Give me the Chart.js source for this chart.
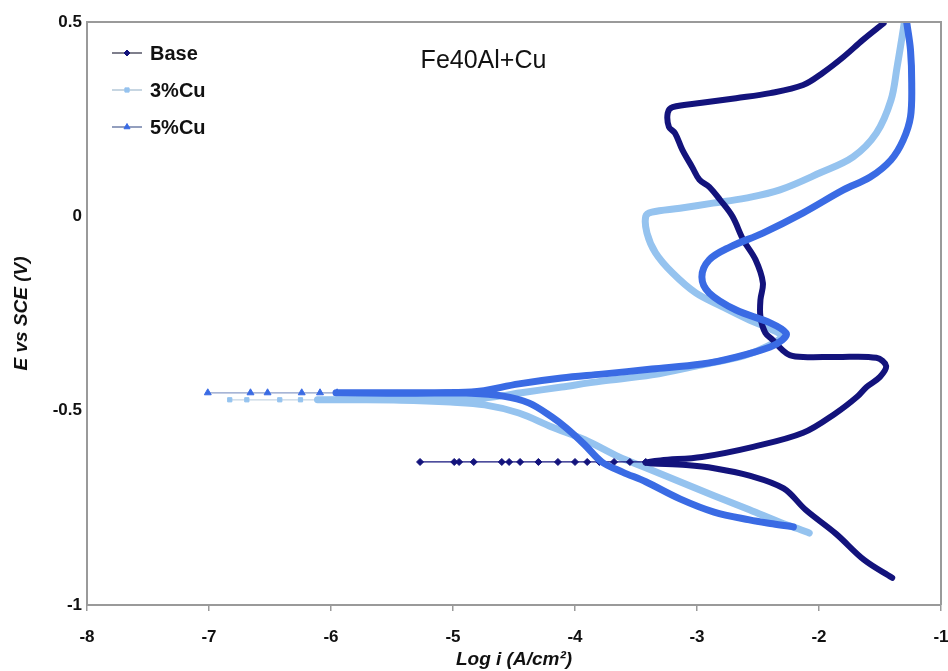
<!DOCTYPE html>
<html>
<head>
<meta charset="utf-8">
<script src="https://cdn.jsdelivr.net/npm/chart.js@4"></script>
<style>
  html, body { margin: 0; padding: 0; background: #fff; }
  #wrap { width: 948px; height: 671px; }
</style>
</head>
<body>
<div id="wrap"><canvas id="polChart"></canvas></div>
<script>
// log i (A/cm2), E vs SCE (V) pairs
const baseCurve = [
  [-1.40,-0.930],[-1.63,-0.884],[-1.86,-0.817],[-2.11,-0.755],[-2.29,-0.700],[-2.57,-0.667],
  [-2.86,-0.648],[-3.09,-0.640],[-3.42,-0.634],[-3.30,-0.628],[-2.96,-0.619],[-2.54,-0.593],
  [-2.13,-0.557],[-1.86,-0.506],[-1.69,-0.465],[-1.61,-0.439],[-1.50,-0.413],[-1.45,-0.385],
  [-1.53,-0.364],[-1.86,-0.362],[-2.13,-0.362],[-2.24,-0.357],[-2.30,-0.344],[-2.38,-0.318],
  [-2.44,-0.300],[-2.48,-0.259],[-2.48,-0.215],[-2.46,-0.171],[-2.52,-0.112],[-2.62,-0.061],
  [-2.71,0.000],[-2.81,0.042],[-2.90,0.076],[-2.98,0.094],[-3.04,0.127],[-3.12,0.171],
  [-3.18,0.214],[-3.23,0.230],[-3.24,0.266],[-3.20,0.281],[-2.96,0.292],[-2.68,0.304],
  [-2.40,0.317],[-2.13,0.338],[-1.97,0.369],[-1.80,0.410],[-1.64,0.454],[-1.47,0.497]
];
const baseTail = [
  [-5.27,-0.632],[-4.99,-0.632],[-4.95,-0.632],[-4.83,-0.632],[-4.60,-0.632],[-4.54,-0.632],
  [-4.45,-0.632],[-4.30,-0.632],[-4.14,-0.632],[-4.00,-0.632],[-3.90,-0.632],[-3.80,-0.632],
  [-3.68,-0.632],[-3.55,-0.632],[-3.42,-0.632]
];
const cu3Curve = [
  [-2.08,-0.815],[-2.17,-0.804],[-2.29,-0.791],[-2.57,-0.755],[-2.86,-0.719],[-3.14,-0.683],
  [-3.42,-0.647],[-3.64,-0.619],[-3.92,-0.575],[-4.19,-0.542],[-4.46,-0.506],[-4.74,-0.485],
  [-5.02,-0.478],[-5.43,-0.473],[-5.80,-0.472],[-6.10,-0.472],[-4.77,-0.468],[-4.44,-0.454],
  [-4.11,-0.439],[-3.78,-0.424],[-3.37,-0.408],[-2.96,-0.382],[-2.62,-0.359],[-2.42,-0.334],
  [-2.31,-0.308],[-2.42,-0.287],[-2.57,-0.267],[-2.79,-0.233],[-3.01,-0.197],[-3.20,-0.146],
  [-3.34,-0.094],[-3.41,-0.043],[-3.42,0.000],[-3.37,0.011],[-3.14,0.021],[-2.87,0.034],
  [-2.60,0.047],[-2.32,0.068],[-1.99,0.112],[-1.72,0.153],[-1.53,0.214],[-1.41,0.299],
  [-1.36,0.384],[-1.32,0.460],[-1.30,0.500]
];
const cu3Tail = [[-6.83,-0.472],[-6.69,-0.472],[-6.42,-0.472],[-6.25,-0.472],[-6.10,-0.472]];
const cu5Curve = [
  [-2.21,-0.799],[-2.38,-0.791],[-2.57,-0.781],[-2.86,-0.761],[-3.14,-0.727],[-3.42,-0.683],
  [-3.61,-0.658],[-3.78,-0.632],[-3.92,-0.588],[-4.07,-0.545],[-4.19,-0.516],[-4.38,-0.480],
  [-4.60,-0.462],[-4.85,-0.455],[-5.20,-0.454],[-5.60,-0.454],[-5.95,-0.454],[-4.85,-0.452],
  [-4.46,-0.431],[-4.11,-0.416],[-3.78,-0.406],[-3.37,-0.393],[-2.96,-0.380],[-2.68,-0.362],
  [-2.40,-0.336],[-2.30,-0.318],[-2.27,-0.300],[-2.40,-0.274],[-2.68,-0.241],[-2.90,-0.197],
  [-2.96,-0.156],[-2.90,-0.112],[-2.73,-0.079],[-2.46,-0.043],[-2.13,0.009],[-1.80,0.068],
  [-1.58,0.101],[-1.41,0.145],[-1.31,0.196],[-1.25,0.256],[-1.24,0.343],[-1.25,0.428],
  [-1.28,0.497]
];
const cu5Tail = [[-7.01,-0.454],[-6.66,-0.454],[-6.52,-0.454],[-6.24,-0.454],[-6.09,-0.454],[-5.95,-0.454]];

const seriesNames = ['Base', '3%Cu', '5%Cu'];
const xTitle = 'Log i (A/cm\u00B2)';
const yTitle = 'E vs SCE (V)';
const plotTitle = 'Fe40Al+Cu';

const navy = '#13137c';
const light = '#95c3ef';
const royal = '#3a6be4';
const FONT = "'Liberation Sans', Arial, sans-serif";

const pts = arr => arr.map(p => ({ x: p[0], y: p[1] }));

function curve(data, color, width, order) {
  return {
    data: pts(data), showLine: true, borderColor: color, borderWidth: width,
    pointRadius: 0, tension: 0.35, borderCapStyle: 'round', borderJoinStyle: 'round', order: order
  };
}
function tail(data, color, lineColor, style, r, order) {
  return {
    data: pts(data), showLine: true, borderColor: lineColor, borderWidth: 1.2,
    pointStyle: style, pointRadius: r, pointBackgroundColor: color, pointBorderColor: color,
    pointBorderWidth: 1, order: order
  };
}

// legend + frame + inner title
const extras = {
  id: 'extras',
  afterDatasetsDraw(chart) {
    const { ctx, chartArea: a, scales } = chart;
    ctx.save();
    ctx.strokeStyle = '#9a9a9a';
    ctx.lineWidth = 2;
    ctx.beginPath();
    ctx.moveTo(a.left, a.top); ctx.lineTo(a.right, a.top); ctx.lineTo(a.right, a.bottom);
    ctx.stroke();

    ctx.fillStyle = '#111';
    ctx.font = '25px ' + FONT;
    ctx.textAlign = 'center';
    ctx.textBaseline = 'middle';
    ctx.fillText(plotTitle, scales.x.getPixelForValue(-4.75), scales.y.getPixelForValue(0.4));

    const items = [
      { line: '#555566', color: navy, style: 'rectRot', r: 3 },
      { line: '#b4c8d8', color: light, style: 'rect', r: 3 },
      { line: '#6f7fa8', color: royal, style: 'triangle', r: 3.5 }
    ];
    ctx.font = 'bold 20px ' + FONT;
    ctx.textAlign = 'left';
    items.forEach((it, i) => {
      const y = a.top + 31 + i * 37;
      const x0 = a.left + 25;
      ctx.strokeStyle = it.line;
      ctx.lineWidth = 1.5;
      ctx.beginPath(); ctx.moveTo(x0, y); ctx.lineTo(x0 + 30, y); ctx.stroke();
      ctx.fillStyle = it.color; ctx.strokeStyle = it.color; ctx.lineWidth = 1;
      Chart.helpers.drawPoint(ctx, { pointStyle: it.style, radius: it.r, borderWidth: 1 }, x0 + 15, y);
      ctx.fillStyle = '#111';
      ctx.fillText(seriesNames[i], x0 + 38, y + 1);
    });
    ctx.restore();
  }
};

const tickFont = { family: FONT, size: 17, weight: 'bold' };
const titleFont = { family: FONT, size: 19, weight: 'bold', style: 'italic' };
const plain = v => String(Number(v.toFixed(2)));

new Chart(document.getElementById('polChart'), {
  type: 'scatter',
  data: {
    datasets: [
      curve(cu5Curve, royal, 7, 0),
      tail(cu5Tail, royal, '#8a9cc8', 'triangle', 4, 1),
      curve(baseCurve, navy, 6, 2),
      tail(baseTail, navy, navy, 'rectRot', 3.5, 3),
      curve(cu3Curve, light, 7, 4),
      tail(cu3Tail, light, '#c6d6e4', 'rect', 3, 5)
    ]
  },
  options: {
    responsive: true,
    maintainAspectRatio: false,
    animation: false,
    layout: { padding: { left: 0, right: 7, top: 22, bottom: 0 } },
    plugins: { legend: { display: false }, tooltip: { enabled: false } },
    scales: {
      x: {
        type: 'linear', min: -8, max: -1,
        ticks: { stepSize: 1, color: '#111', font: tickFont, padding: 16, callback: plain },
        grid: { drawOnChartArea: false, color: '#9a9a9a', tickLength: 6, lineWidth: 1.5 },
        border: { color: '#9a9a9a', width: 2 },
        title: { display: true, text: xTitle, color: '#111', font: titleFont, padding: { top: 0, bottom: 0 } },
        afterFit(s) { s.height = 66; s.paddingLeft = 0; s.paddingRight = 0; }
      },
      y: {
        type: 'linear', min: -1, max: 0.5,
        ticks: { stepSize: 0.5, color: '#111', font: tickFont, padding: 5, callback: plain },
        grid: { drawOnChartArea: false, drawTicks: false },
        border: { color: '#9a9a9a', width: 2 },
        title: { display: true, text: yTitle, color: '#111', font: titleFont, padding: { top: 10, bottom: 0 } },
        afterFit(s) { s.width = 87; s.paddingTop = 0; s.paddingBottom = 0; }
      }
    }
  },
  plugins: [extras]
});
</script>
</body>
</html>
